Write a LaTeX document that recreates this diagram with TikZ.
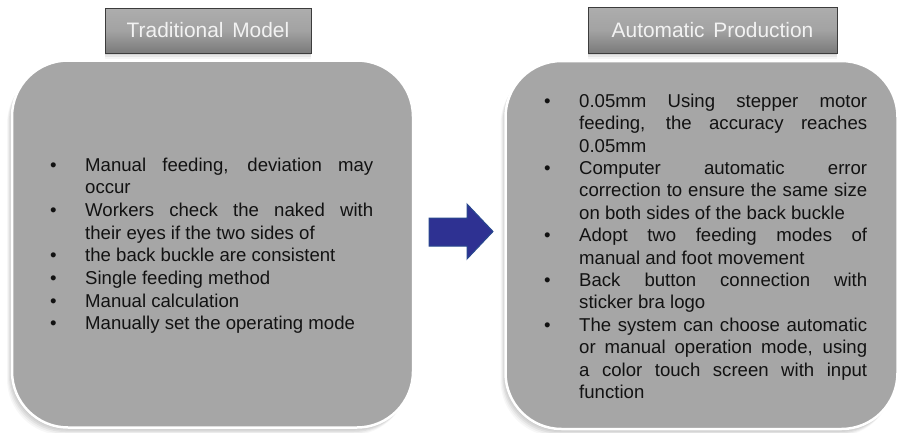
\documentclass[tikz,border=0pt]{standalone}
\usepackage{fontspec}
\setmainfont{Liberation Sans}
\definecolor{boxfill}{HTML}{A6A6A6}
\definecolor{titletop}{HTML}{ADADAD}
\definecolor{titlebot}{HTML}{7A7A7A}
\definecolor{titleedge}{HTML}{3C3C3C}
\definecolor{textc}{HTML}{121212}
\definecolor{arrowfill}{RGB}{46,49,146}
\definecolor{arrowedge}{RGB}{40,72,142}
\newlength\colw
\setlength\colw{288pt}
\newcommand\bj[1]{\hbox{\makebox[35pt][l]{•}\makebox[\colw][s]{#1}}}
\newcommand\br[1]{\hbox{\makebox[35pt][l]{•}#1}}
\newcommand\jl[1]{\hbox{\hspace{35pt}\makebox[\colw][s]{#1}}}
\newcommand\rl[1]{\hbox{\hspace{35pt}#1}}
\tikzset{
  softshadow/.style={
    preaction={fill=black, fill opacity=0.05, transform canvas={xshift=-1pt,yshift=-1.5pt}},
    preaction={fill=black, fill opacity=0.05, transform canvas={xshift=-2pt,yshift=-3pt}},
    preaction={fill=black, fill opacity=0.05, transform canvas={xshift=-3pt,yshift=-4.5pt}},
    preaction={fill=black, fill opacity=0.04, transform canvas={xshift=-4pt,yshift=-6pt}},
    preaction={fill=black, fill opacity=0.03, transform canvas={xshift=-5pt,yshift=-7.5pt}}},
  bigbox/.style={softshadow, rectangle, rounded corners=56pt, fill=boxfill, draw=white, line width=2.5pt, inner sep=0pt},
  titlebox/.style={
    preaction={fill=black, fill opacity=0.08, transform canvas={yshift=-2pt}},
    preaction={fill=black, fill opacity=0.06, transform canvas={yshift=-4pt}},
    preaction={fill=black, fill opacity=0.04, transform canvas={yshift=-6pt}},
    rectangle, draw=titleedge, line width=1pt, top color=titletop, bottom color=titlebot,
    middle color=titletop!80!titlebot, text=white!95!black, inner sep=0pt,
    font=\fontsize{20.9}{24}\selectfont},
  listtext/.style={anchor=base west, inner sep=0pt, text=textc, font=\fontsize{18.6}{22.5}\selectfont},
  blockarrow/.style={fill=arrowfill, draw=arrowedge, line width=1pt, line join=miter}
}
\begin{document}
\begin{tikzpicture}[x=1pt,y=-1pt]
\useasboundingbox (0,0) rectangle (900,432);
\fill[white] (0,0) rectangle (900,432);

\node[bigbox, minimum width=401pt, minimum height=367pt] (leftbox) at (212.5,244) {};
\node[bigbox, minimum width=392pt, minimum height=368pt] (rightbox) at (701.5,245) {};

\node[titlebox, minimum width=206pt, minimum height=45pt] (lefttitle) at (208,30.5) {Traditional\hspace{0.42em}Model};
\node[titlebox, minimum width=249pt, minimum height=46pt] (righttitle) at (712.5,30) {Automatic\hspace{0.42em}Production};

\draw[blockarrow] (429,218) -- (467,218) -- (467,204) -- (493,231.5) -- (467,259) -- (467,246) -- (429,246) -- cycle;

\node[listtext] (lefttext) at (50,171) {\parbox[t]{330pt}{\baselineskip=22.7pt\lineskiplimit=-20pt
\bj{Manual feeding, deviation may}
\rl{occur}
\bj{Workers check the naked with}
\rl{their eyes if the two sides of}
\br{the back buckle are consistent}
\br{Single feeding method}
\br{Manual calculation}
\br{Manually set the operating mode}}};

\node[listtext] (righttext) at (544,107.3) {\parbox[t]{330pt}{\baselineskip=22.4pt\lineskiplimit=-20pt
\bj{0.05mm Using stepper motor}
\jl{feeding, the accuracy reaches}
\rl{0.05mm}
\bj{Computer automatic error}
\jl{correction to ensure the same size}
\rl{on both sides of the back buckle}
\bj{Adopt two feeding modes of}
\rl{manual and foot movement}
\bj{Back button connection with}
\rl{sticker bra logo}
\bj{The system can choose automatic}
\jl{or manual operation mode, using}
\jl{a color touch screen with input}
\rl{function}}};
\end{tikzpicture}
\end{document}
